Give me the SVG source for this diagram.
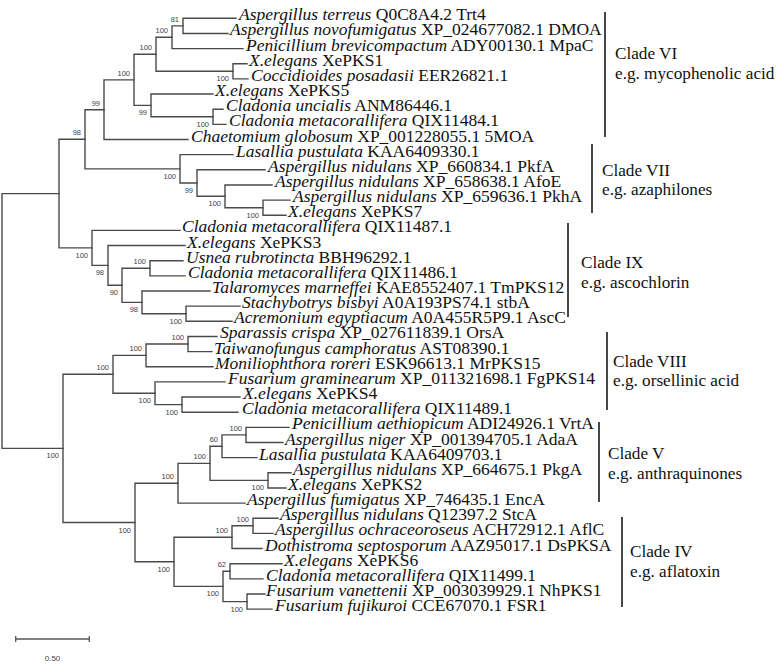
<svg xmlns="http://www.w3.org/2000/svg" width="777" height="672" viewBox="0 0 777 672">
<style>
.br{fill:none;stroke:#4a4a4a;stroke-width:1.4;stroke-linecap:square}
.lf{font-family:"Liberation Serif","Times New Roman",serif;font-size:17.5px;fill:#111}
.lf .i{font-style:italic}
.bs{font-family:"Liberation Sans",Arial,sans-serif;font-size:7.5px;fill:#444;text-anchor:end}
.cl{font-family:"Liberation Serif","Times New Roman",serif;font-size:17.2px;fill:#111}
.bk{stroke:#333;stroke-width:1.8}
.sb{stroke:#555;stroke-width:1.3;fill:none}
.st{font-family:"Liberation Sans",Arial,sans-serif;font-size:8px;fill:#444;text-anchor:middle}
</style>
<rect width="777" height="672" fill="#fff"/>
<g id="connectors" class="br">
<path d="M236 18.3H183V33.45H228"/>
<path d="M183 25.9H172V48.6H243"/>
<path d="M247 63.75H233V78.9H248"/>
<path d="M172 37.25H156V71.3H233"/>
<path d="M223 109.2H213V124.35H226"/>
<path d="M213 94.05H151V116.8H213"/>
<path d="M156 54.3H134V105.4H151"/>
<path d="M134 79.85H104V139.5H188"/>
<path d="M290 200.1H263V215.25H286"/>
<path d="M272 184.95H225V207.7H263"/>
<path d="M265 169.8H197V196.3H225"/>
<path d="M233 154.65H180V183.05H197"/>
<path d="M104 109.7H85V168.85H180"/>
<path d="M240 306.15H186V321.3H232"/>
<path d="M210 291H142V313.7H186"/>
<path d="M183 260.7H150V275.85H185"/>
<path d="M150 268.3H122V302.4H142"/>
<path d="M185 245.55H108V285.3H122"/>
<path d="M180 230.4H92V265.4H108"/>
<path d="M85 139.3H59V247.9H92"/>
<path d="M217 336.45H188V351.6H212"/>
<path d="M188 344H146V366.75H213"/>
<path d="M240 397.05H182V412.2H238"/>
<path d="M225 381.9H155V404.6H182"/>
<path d="M146 355.4H113V393.25H155"/>
<path d="M289 427.35H246V442.5H283"/>
<path d="M246 434.9H222V457.65H257"/>
<path d="M291 472.8H268V487.95H286"/>
<path d="M222 446.3H210V480.4H268"/>
<path d="M210 463.35H178V503.1H245"/>
<path d="M278 518.25H253V533.4H273"/>
<path d="M253 525.8H232V548.55H262"/>
<path d="M282 563.7H230V578.85H263"/>
<path d="M265 594H247V609.15H272"/>
<path d="M230 571.3H223V601.6H247"/>
<path d="M232 537.2H174V586.4H223"/>
<path d="M178 483.2H135V561.8H174"/>
<path d="M113 374.3H63V522.5H135"/>
<path d="M59 193.6H2V448.4H63"/>
</g>
<g id="bootstrap" class="bs">
<g id="n81"><text x="179" y="21.9">81</text></g>
<g id="n172"><text x="168" y="33.25">100</text></g>
<g id="n156"><text x="152" y="50.3">100</text></g>
<g id="n233"><text x="229" y="81.3">100</text></g>
<g id="n134"><text x="130" y="75.85">100</text></g>
<g id="n151"><text x="147" y="115.4">99</text></g>
<g id="n213"><text x="209" y="126.8">100</text></g>
<g id="n104"><text x="100" y="105.7">99</text></g>
<g id="n85"><text x="81" y="135.3">98</text></g>
<g id="n180"><text x="176" y="178.85">100</text></g>
<g id="n197"><text x="193" y="193.05">99</text></g>
<g id="n225"><text x="221" y="206.3">100</text></g>
<g id="n263"><text x="259" y="217.7">100</text></g>
<g id="n92"><text x="88" y="257.9">100</text></g>
<g id="n108"><text x="104" y="275.4">98</text></g>
<g id="n122"><text x="118" y="295.3">90</text></g>
<g id="n150"><text x="146" y="264.3">100</text></g>
<g id="n142"><text x="138" y="312.4">98</text></g>
<g id="n186"><text x="182" y="323.7">100</text></g>
<g id="nC8"><text x="109" y="370.3">100</text></g>
<g id="n146"><text x="142" y="351.4">100</text></g>
<g id="n188"><text x="184" y="340">100</text></g>
<g id="n155"><text x="151" y="403.25">100</text></g>
<g id="n182"><text x="178" y="414.6">100</text></g>
<g id="nN2"><text x="59" y="458.4">100</text></g>
<g id="nN3"><text x="131" y="532.5">100</text></g>
<g id="n178"><text x="174" y="479.2">100</text></g>
<g id="n210"><text x="206" y="459.35">100</text></g>
<g id="n222"><text x="218" y="442.3">60</text></g>
<g id="n246"><text x="242" y="430.9">100</text></g>
<g id="n268"><text x="264" y="490.4">100</text></g>
<g id="n174"><text x="170" y="571.8">100</text></g>
<g id="n232"><text x="228" y="533.2">100</text></g>
<g id="n253"><text x="249" y="521.8">100</text></g>
<g id="n223"><text x="219" y="596.4">100</text></g>
<g id="n230"><text x="226" y="567.3">62</text></g>
<g id="n247"><text x="243" y="611.6">100</text></g>
</g>
<g id="leaves" class="lf">
<g id="L0"><text x="239" y="20.3"><tspan class="i">Aspergillus terreus</tspan> Q0C8A4.2 Trt4</text></g>
<g id="L1"><text x="230" y="35.45"><tspan class="i">Aspergillus novofumigatus</tspan> XP_024677082.1 DMOA</text></g>
<g id="L2"><text x="246" y="50.6"><tspan class="i">Penicillium brevicompactum</tspan> ADY00130.1 MpaC</text></g>
<g id="L3"><text x="249" y="65.75"><tspan class="i">X.elegans</tspan> XePKS1</text></g>
<g id="L4"><text x="251" y="80.9"><tspan class="i">Coccidioides posadasii</tspan> EER26821.1</text></g>
<g id="L5"><text x="215" y="96.05"><tspan class="i">X.elegans</tspan> XePKS5</text></g>
<g id="L6"><text x="226" y="111.2"><tspan class="i">Cladonia uncialis</tspan> ANM86446.1</text></g>
<g id="L7"><text x="229" y="126.35"><tspan class="i">Cladonia metacorallifera</tspan> QIX11484.1</text></g>
<g id="L8"><text x="191" y="141.5"><tspan class="i">Chaetomium globosum</tspan> XP_001228055.1 5MOA</text></g>
<g id="L9"><text x="236" y="156.65"><tspan class="i">Lasallia pustulata</tspan> KAA6409330.1</text></g>
<g id="L10"><text x="268" y="171.8"><tspan class="i">Aspergillus nidulans</tspan> XP_660834.1 PkfA</text></g>
<g id="L11"><text x="275" y="186.95"><tspan class="i">Aspergillus nidulans</tspan> XP_658638.1 AfoE</text></g>
<g id="L12"><text x="293" y="202.1"><tspan class="i">Aspergillus nidulans</tspan> XP_659636.1 PkhA</text></g>
<g id="L13"><text x="288" y="217.25"><tspan class="i">X.elegans</tspan> XePKS7</text></g>
<g id="L14"><text x="182" y="232.4"><tspan class="i">Cladonia metacorallifera</tspan> QIX11487.1</text></g>
<g id="L15"><text x="187" y="247.55"><tspan class="i">X.elegans</tspan> XePKS3</text></g>
<g id="L16"><text x="186" y="262.7"><tspan class="i">Usnea rubrotincta</tspan> BBH96292.1</text></g>
<g id="L17"><text x="188" y="277.85"><tspan class="i">Cladonia metacorallifera</tspan> QIX11486.1</text></g>
<g id="L18"><text x="212" y="293"><tspan class="i">Talaromyces marneffei</tspan> KAE8552407.1 TmPKS12</text></g>
<g id="L19"><text x="242" y="308.15"><tspan class="i">Stachybotrys bisbyi</tspan> A0A193PS74.1 stbA</text></g>
<g id="L20"><text x="234" y="323.3"><tspan class="i">Acremonium egyptiacum</tspan> A0A455R5P9.1 AscC</text></g>
<g id="L21"><text x="220" y="338.45"><tspan class="i">Sparassis crispa</tspan> XP_027611839.1 OrsA</text></g>
<g id="L22"><text x="214" y="353.6"><tspan class="i">Taiwanofungus camphoratus</tspan> AST08390.1</text></g>
<g id="L23"><text x="215" y="368.75"><tspan class="i">Moniliophthora roreri</tspan> ESK96613.1 MrPKS15</text></g>
<g id="L24"><text x="228" y="383.9"><tspan class="i">Fusarium graminearum</tspan> XP_011321698.1 FgPKS14</text></g>
<g id="L25"><text x="243" y="399.05"><tspan class="i">X.elegans</tspan> XePKS4</text></g>
<g id="L26"><text x="242" y="414.2"><tspan class="i">Cladonia metacorallifera</tspan> QIX11489.1</text></g>
<g id="L27"><text x="292" y="429.35"><tspan class="i">Penicillium aethiopicum</tspan> ADI24926.1 VrtA</text></g>
<g id="L28"><text x="285" y="444.5"><tspan class="i">Aspergillus niger</tspan> XP_001394705.1 AdaA</text></g>
<g id="L29"><text x="259" y="459.65"><tspan class="i">Lasallia pustulata</tspan> KAA6409703.1</text></g>
<g id="L30"><text x="293" y="474.8"><tspan class="i">Aspergillus nidulans</tspan> XP_664675.1 PkgA</text></g>
<g id="L31"><text x="288" y="489.95"><tspan class="i">X.elegans</tspan> XePKS2</text></g>
<g id="L32"><text x="247" y="505.1"><tspan class="i">Aspergillus fumigatus</tspan> XP_746435.1 EncA</text></g>
<g id="L33"><text x="280" y="520.25"><tspan class="i">Aspergillus nidulans</tspan> Q12397.2 StcA</text></g>
<g id="L34"><text x="275" y="535.4"><tspan class="i">Aspergillus ochraceoroseus</tspan> ACH72912.1 AflC</text></g>
<g id="L35"><text x="265" y="550.55"><tspan class="i">Dothistroma septosporum</tspan> AAZ95017.1 DsPKSA</text></g>
<g id="L36"><text x="284" y="565.7"><tspan class="i">X.elegans</tspan> XePKS6</text></g>
<g id="L37"><text x="266" y="580.85"><tspan class="i">Cladonia metacorallifera</tspan> QIX11499.1</text></g>
<g id="L38"><text x="266" y="596"><tspan class="i">Fusarium vanettenii</tspan> XP_003039929.1 NhPKS1</text></g>
<g id="L39"><text x="275" y="611.15"><tspan class="i">Fusarium fujikuroi</tspan> CCE67070.1 FSR1</text></g>
</g>
<g id="clades">
<g id="cladeVI"><line class="bk" x1="605" y1="12" x2="605" y2="137"/><text class="cl" x="615" y="59">Clade VI</text><text class="cl" x="615" y="79">e.g. mycophenolic acid</text></g>
<g id="cladeVII"><line class="bk" x1="592" y1="144" x2="592" y2="213"/><text class="cl" x="602" y="176">Clade VII</text><text class="cl" x="602" y="195">e.g. azaphilones</text></g>
<g id="cladeIX"><line class="bk" x1="568" y1="223" x2="568" y2="317"/><text class="cl" x="581" y="268">Clade IX</text><text class="cl" x="581" y="288">e.g. ascochlorin</text></g>
<g id="cladeVIII"><line class="bk" x1="607" y1="332" x2="607" y2="410"/><text class="cl" x="613" y="367">Clade VIII</text><text class="cl" x="613" y="386">e.g. orsellinic acid</text></g>
<g id="cladeV"><line class="bk" x1="599" y1="422" x2="599" y2="502"/><text class="cl" x="608" y="459">Clade V</text><text class="cl" x="608" y="479">e.g. anthraquinones</text></g>
<g id="cladeIV"><line class="bk" x1="622" y1="517" x2="622" y2="607"/><text class="cl" x="630" y="557">Clade IV</text><text class="cl" x="630" y="577">e.g. aflatoxin</text></g>
</g>
<g id="scalebar">
<path class="sb" d="M15.7 639H89.3M15.7 636V642M89.3 636V642"/>
<text class="st" x="52.5" y="661">0.50</text>
</g>
</svg>
